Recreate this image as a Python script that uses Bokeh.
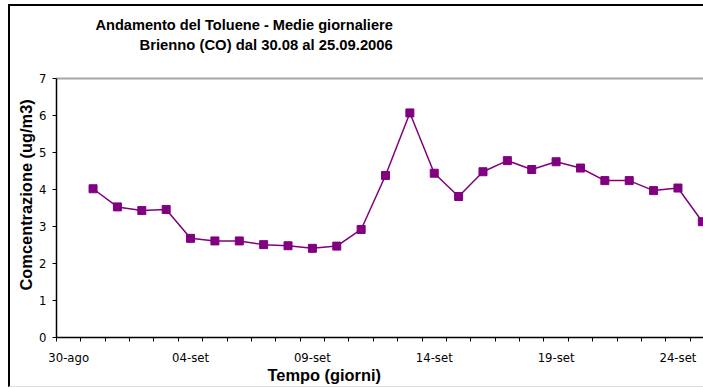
from bokeh.plotting import figure
from bokeh.models import (ColumnDataSource, FixedTicker, Range1d, LinearAxis, Title)
from bokeh.embed import file_html
from bokeh.resources import INLINE

# Daily means of toluene, Brienno (CO), 31 Aug - 25 Sep 2006
giorni = ["31-ago", "01-set", "02-set", "03-set", "04-set", "05-set", "06-set",
          "07-set", "08-set", "09-set", "10-set", "11-set", "12-set", "13-set",
          "14-set", "15-set", "16-set", "17-set", "18-set", "19-set", "20-set",
          "21-set", "22-set", "23-set", "24-set", "25-set"]
giorno_idx = list(range(1, 27))  # days after 30-ago
toluene = [4.02, 3.53, 3.43, 3.46, 2.68, 2.61, 2.61, 2.51, 2.48, 2.41, 2.47, 2.92,
           4.38, 6.07, 4.44, 3.81, 4.48, 4.78, 4.54, 4.75, 4.58, 4.24, 4.24, 3.97,
           4.04, 3.13]

tick_pos = [0, 5, 10, 15, 20, 25]
tick_labels = ["30-ago", "04-set", "09-set", "14-set", "19-set", "24-set"]
y_ticks = [0, 1, 2, 3, 4, 5, 6, 7]

FONT = "DejaVu Sans"
BOLD = "Liberation Sans"
COL = "#800080"

src = ColumnDataSource(dict(x=giorno_idx, y=toluene, g=giorni))

# 2px left/top and 1px bottom border are included in the figure's box
p = figure(width=695, height=383, output_backend="svg", toolbar_location=None,
           x_range=Range1d(-0.5, 26.13), y_range=Range1d(0, 7),
           min_border_left=46, min_border_right=0, min_border_top=72,
           min_border_bottom=52)
p.title = None
# chart frame drawn as the border of the figure's box
p.styles = {"margin-left": "8px", "margin-top": "4px",
            "border-left": "2px solid black", "border-top": "2px solid black",
            "border-bottom": "1px solid #dedede"}
p.outline_line_color = None
p.background_fill_color = "white"
p.border_fill_color = "white"
p.xgrid.visible = False
p.ygrid.visible = False

p.line("x", "y", source=src, line_color=COL, line_width=1.5)
p.scatter("x", "y", source=src, marker="square", size=8, fill_color=COL,
          line_color=COL)

xax = p.xaxis[0]
yax = p.yaxis[0]

# top edge of the plot area; its blank label keeps room below the titles
top = LinearAxis(ticker=FixedTicker(ticks=[], minor_ticks=[]),
                 axis_line_color="#a6a6a6", axis_line_width=2,
                 major_tick_line_color=None, minor_tick_line_color=None,
                 major_label_text_font_size="0px",
                 axis_label="\u00a0", axis_label_text_font_size="10px",
                 axis_label_standoff=10)
p.add_layout(top, "above")

# titles: the later one sits further from the plot
p.add_layout(Title(text="Brienno (CO) dal 30.08 al 25.09.2006", align="left",
                   offset=83, text_font=BOLD, text_font_style="bold",
                   text_font_size="14.8px", text_color="black", standoff=4),
             "above")
p.add_layout(Title(text="Andamento del Toluene - Medie giornaliere", align="left",
                   offset=39, text_font=BOLD, text_font_style="bold",
                   text_font_size="14.6px", text_color="black", standoff=0),
             "above")

# x axis: day slots with tick marks at their boundaries, labels every 5 days
xax.ticker = FixedTicker(ticks=tick_pos, minor_ticks=[i - 0.5 for i in range(0, 28)])
xax.major_label_overrides = {t: l for t, l in zip(tick_pos, tick_labels)}
xax.major_tick_out = 0
xax.major_tick_in = 0
xax.minor_tick_out = 4
xax.minor_tick_in = 0
xax.minor_tick_line_color = "black"
xax.axis_line_color = "black"
xax.axis_line_width = 1.5
xax.major_label_text_font = FONT
xax.major_label_text_font_size = "11.7px"
xax.major_label_text_color = "black"
xax.major_label_standoff = 9

yax.ticker = FixedTicker(ticks=y_ticks, minor_ticks=[])
yax.major_tick_out = 4
yax.major_tick_in = 0
yax.minor_tick_out = 0
yax.axis_line_color = "black"
yax.axis_line_width = 1.5
yax.major_label_text_font = FONT
yax.major_label_text_font_size = "11.7px"
yax.major_label_text_color = "black"
yax.major_label_standoff = 6

# axis titles, placed off-centre along their axes
p.add_layout(Title(text="Tempo (giorni)", align="left", offset=211,
                   vertical_align="top",
                   text_font=BOLD, text_font_style="bold", text_font_size="16.4px",
                   text_color="black", standoff=-4), "below")
p.add_layout(Title(text="Comcentrazione (ug/m3)", align="left", offset=47,
                   text_font=BOLD, text_font_style="bold", text_font_size="16.4px",
                   text_color="black", standoff=3), "left")

open("out.html", "w").write(file_html(p, INLINE))
